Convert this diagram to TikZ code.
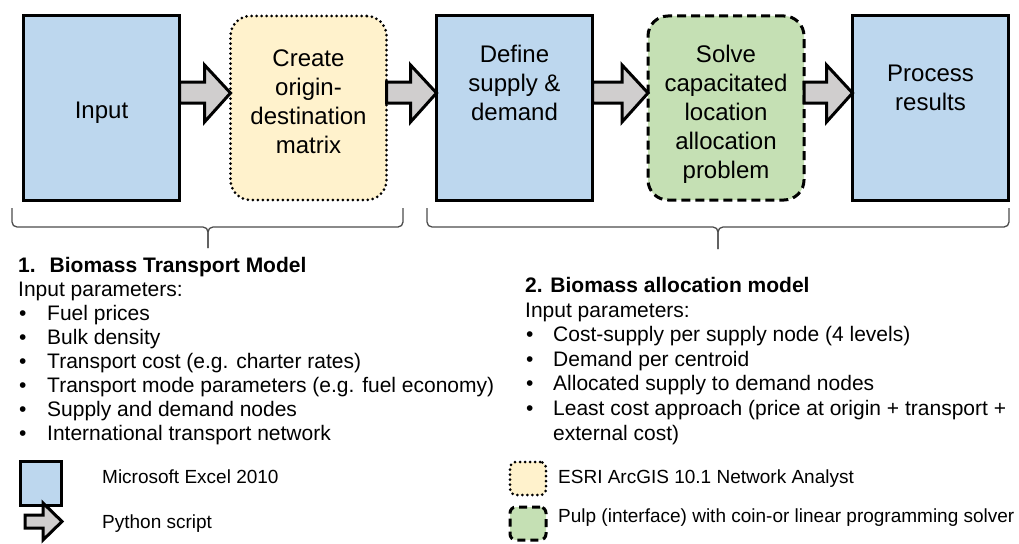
\documentclass[tikz,border=0pt]{standalone}
\usepackage{fontspec}
\setmainfont{Liberation Sans}
\usepackage{tikz}
\usetikzlibrary{arrows.meta, positioning, calc}
\definecolor{excelblue}{RGB}{189, 215, 238}
\definecolor{arcyellow}{RGB}{255, 242, 204}
\definecolor{pulpgreen}{RGB}{197, 224, 180}
\definecolor{pygray}{RGB}{208, 206, 206}
\newcommand{\bul}[1][29pt]{\makebox[#1][l]{\hspace{1pt}\textbullet}}

\begin{document}
\begin{tikzpicture}[x=1pt, y=-1pt,
    stage/.style={draw, line width=3pt, minimum width=156pt, minimum height=184pt, inner sep=0pt, outer sep=0pt},
    excel/.style={stage, fill=excelblue},
    arcgis/.style={stage, fill=arcyellow, rounded corners=20pt, line cap=round, dash pattern=on 0pt off 5pt},
    pulp/.style={stage, fill=pulpgreen, rounded corners=20pt, dash pattern=on 9pt off 5pt},
    flow/.style={draw, line width=3pt, fill=pygray, line join=miter},
    boxtext/.style={font=\fontsize{24}{29}\selectfont, align=center, inner sep=0pt},
    brace/.style={draw=black!70, line width=1.3pt, rounded corners=5pt},
    listtext/.style={font=\fontsize{21}{24}\selectfont, align=left, inner sep=0pt, anchor=north west},
    legtext/.style={font=\fontsize{19}{23}\selectfont, inner sep=0pt, anchor=base west}]
    \useasboundingbox (0,0) rectangle (1019,543);

    % stages
    \node[excel] (input) at (101.5,108) {};
    \node[arcgis, right=51pt of input] (odm) {};
    \node[excel, right=50pt of odm] (supply) {};
    \node[pulp, right=55.5pt of supply] (solve) {};
    \node[excel, right=48.5pt of solve] (results) {};

    % python arrows between stages
    \foreach \a/\b in {input/odm, odm/supply, supply/solve, solve/results} {
        \draw[flow] ($(\a.east)+(0,-26)$) -- ($(\b.west)+(-26,-26)$) -- ($(\b.west)+(-26,-43)$)
            -- ($(\b.west)+(0,-15)$) -- ($(\b.west)+(-26,14)$) -- ($(\b.west)+(-26,-5)$)
            -- ($(\a.east)+(0,-5)$) -- cycle;
    }

    \node[boxtext, below=86pt of input.north] (input-txt) {Input};
    \node[boxtext, below=33.5pt of odm.north] (odm-txt) {Create\\origin-\\destination\\matrix};
    \node[boxtext, below=28.5pt of supply.north] (supply-txt) {Define\\supply \&\\demand};
    \node[boxtext, below=28.5pt of solve.north] (solve-txt) {Solve\\capacitated\\location\\allocation\\problem};
    \node[boxtext, below=48.5pt of results.north] (results-txt) {Process\\results};

    % braces
    \draw[brace] (12,208) -- (12,227) -- (208,227) -- (208,248);
    \draw[brace] (403,208) -- (403,227) -- (208,227) -- (208,248);
    \draw[brace] (427,208) -- (427,227) -- (718,227) -- (718,249);
    \draw[brace] (1009,208) -- (1009,227) -- (718,227) -- (718,249);

    % model descriptions
    \node[listtext] (model1) at (18,257) {\textbf{1.\hspace*{14pt}Biomass Transport Model}\\
        Input parameters:\\
        \bul Fuel prices\\
        \bul Bulk density\\
        \bul Transport cost (e.g. charter rates)\\
        \bul Transport mode parameters (e.g. fuel economy)\\
        \bul Supply and demand nodes\\
        \bul International transport network};
    \node[listtext, font=\fontsize{21}{24.6}\selectfont] (model2) at (525,277) {\textbf{2. Biomass allocation model}\\
        Input parameters:\\
        \bul[28pt]Cost-supply per supply node (4 levels)\\
        \bul[28pt]Demand per centroid\\
        \bul[28pt]Allocated supply to demand nodes\\
        \bul[28pt]Least cost approach (price at origin + transport +\\
        \hspace*{28pt}external cost)};

    % legend
    \node[excel, minimum width=41pt, minimum height=44pt] (leg-excel) at (40.5,483) {};
    \draw[flow] (25,515) -- (43,515) -- (43,503) -- (62,521.5) -- (43,540) -- (43,528) -- (25,528) -- cycle;
    \node[arcgis, minimum width=36pt, minimum height=33pt, rounded corners=6pt] (leg-arcgis) at (528,478.5) {};
    \node[pulp, minimum width=36pt, minimum height=33pt, rounded corners=6pt, dash pattern=on 8pt off 5pt] (leg-pulp) at (528,523.5) {};
    \node[legtext] (leg-excel-txt) at (102,483) {Microsoft Excel 2010};
    \node[legtext] (leg-py-txt) at (102,528) {Python script};
    \node[legtext] (leg-arcgis-txt) at (558,483) {ESRI ArcGIS 10.1 Network Analyst};
    \node[legtext] (leg-pulp-txt) at (558,522) {Pulp (interface) with coin-or linear programming solver};
\end{tikzpicture}
\end{document}
